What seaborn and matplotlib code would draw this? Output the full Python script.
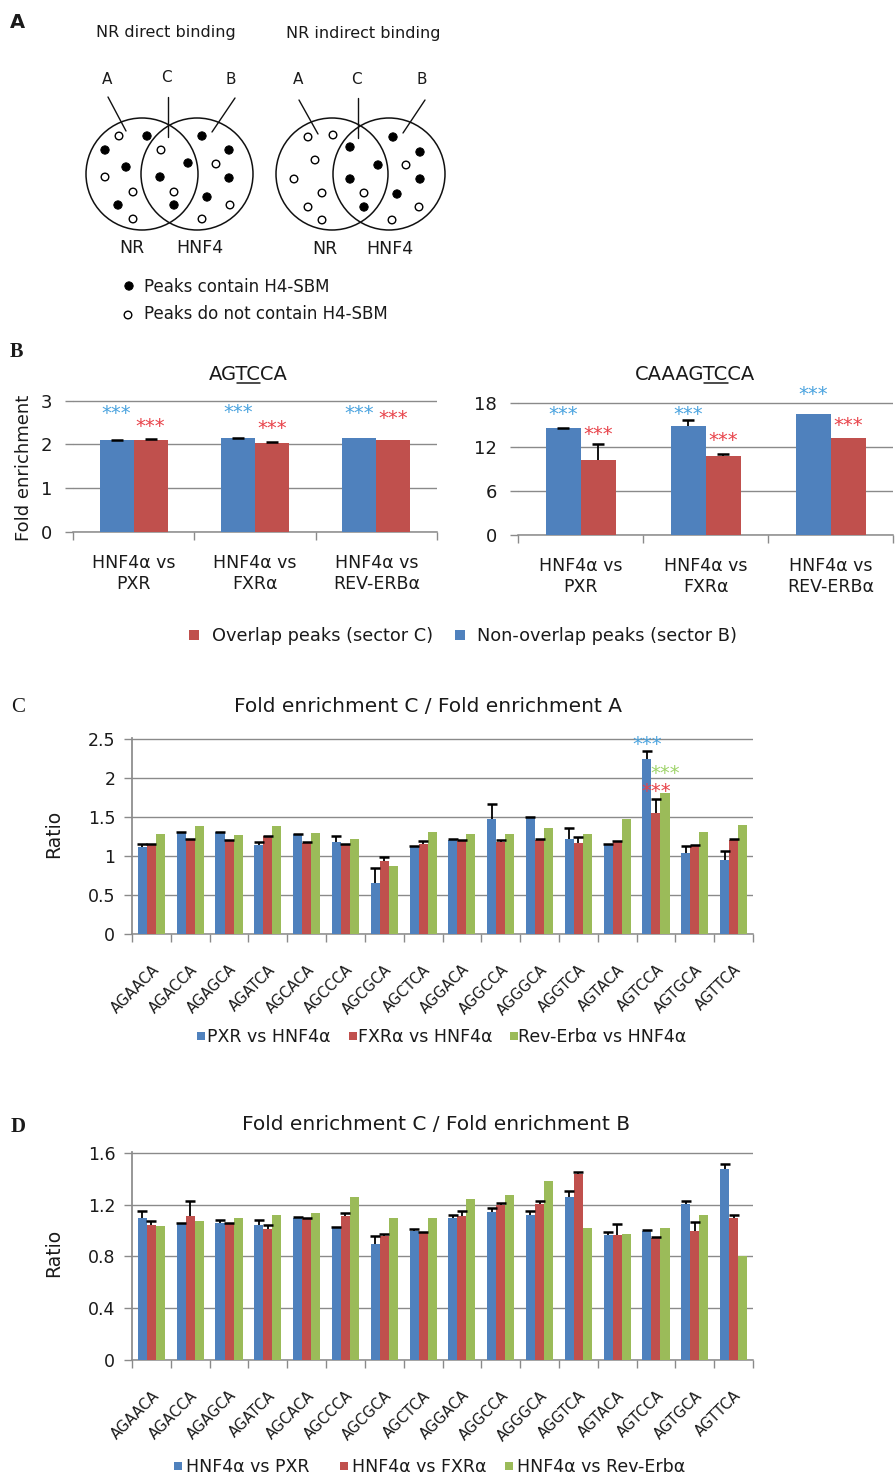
import numpy as np
import pandas as pd
import matplotlib
matplotlib.use("Agg")
import matplotlib.pyplot as plt
from matplotlib.patches import Circle, Rectangle
import seaborn as sns

# ------------------------------------------------------------------ data
B_GROUPS = ["HNF4α vs\nPXR", "HNF4α vs\nFXRα", "HNF4α vs\nREV-ERBα"]
B_SERIES = ["Non-overlap peaks (sector B)", "Overlap peaks (sector C)"]

AGTCCA_NONOVERLAP = [2.10, 2.14, 2.14]
AGTCCA_NONOVERLAP_ERR = [0.005, 0.01, np.nan]
AGTCCA_OVERLAP = [2.10, 2.02, 2.10]
AGTCCA_OVERLAP_ERR = [0.025, 0.025, np.nan]

CAAAGTCCA_NONOVERLAP = [14.5, 14.8, 16.5]
CAAAGTCCA_NONOVERLAP_ERR = [0.08, 0.85, np.nan]
CAAAGTCCA_OVERLAP = [10.15, 10.8, 13.2]
CAAAGTCCA_OVERLAP_ERR = [2.25, 0.15, np.nan]

MOTIFS = ["AGAACA", "AGACCA", "AGAGCA", "AGATCA", "AGCACA", "AGCCCA",
          "AGCGCA", "AGCTCA", "AGGACA", "AGGCCA", "AGGGCA", "AGGTCA",
          "AGTACA", "AGTCCA", "AGTGCA", "AGTTCA"]

C_SERIES = ["PXR vs HNF4α", "FXRα vs HNF4α", "Rev-Erbα vs HNF4α"]
C_PXR = [1.12, 1.30, 1.30, 1.14, 1.28, 1.18, 0.65, 1.12,
         1.21, 1.47, 1.49, 1.22, 1.15, 2.24, 1.04, 0.95]
C_PXR_ERR = [0.03, 0.005, 0.005, 0.035, 0.005, 0.08, 0.20, 0.005,
             0.005, 0.19, 0.005, 0.14, 0.005, 0.10, 0.09, 0.11]
C_FXR = [1.15, 1.21, 1.19, 1.25, 1.17, 1.15, 0.93, 1.15,
         1.19, 1.18, 1.21, 1.16, 1.19, 1.555, 1.13, 1.21]
C_FXR_ERR = [0.005, 0.01, 0.01, 0.01, 0.01, 0.005, 0.06, 0.04,
             0.01, 0.03, 0.01, 0.08, 0.005, 0.17, 0.005, 0.01]
C_REV = [1.28, 1.38, 1.265, 1.38, 1.29, 1.22, 0.87, 1.31,
         1.28, 1.28, 1.36, 1.28, 1.47, 1.80, 1.31, 1.40]

D_SERIES = ["HNF4α vs PXR", "HNF4α vs FXRα", "HNF4α vs Rev-Erbα"]
D_PXR = [1.10, 1.053, 1.058, 1.045, 1.10, 1.025, 0.895, 0.994,
         1.097, 1.14, 1.123, 1.257, 0.963, 0.994, 1.205, 1.476]
D_PXR_ERR = [0.05, 0.003, 0.026, 0.039, 0.003, 0.005, 0.065, 0.02,
             0.02, 0.034, 0.025, 0.051, 0.023, 0.008, 0.021, 0.034]
D_FXR = [1.045, 1.11, 1.053, 1.014, 1.09, 1.11, 0.955, 0.986,
         1.11, 1.20, 1.205, 1.437, 0.963, 0.942, 1.0, 1.097]
D_FXR_ERR = [0.025, 0.12, 0.005, 0.026, 0.005, 0.025, 0.018, 0.003,
             0.038, 0.013, 0.025, 0.018, 0.09, 0.005, 0.066, 0.02]
D_REV = [1.032, 1.07, 1.097, 1.12, 1.135, 1.257, 1.097, 1.097,
         1.246, 1.272, 1.38, 1.019, 0.976, 1.019, 1.123, 0.80]

# ------------------------------------------------------------------ style
BLUE, RED, GREEN = "#4F81BD", "#C0504D", "#9BBB59"
STAR_BLUE, STAR_RED, STAR_GREEN = "#4aa3df", "#e8434a", "#9fd46a"
GRID = "#8a8a8a"
INK = "#1a1a1a"

sns.set_theme(style="white")
plt.rcParams["font.family"] = ["DejaVu Sans"]
plt.rcParams["text.color"] = INK

W, H = 896, 1477
fig = plt.figure(figsize=(W / 100, H / 100), dpi=100)
fig.patch.set_facecolor("white")


def frame(l, t, r, b):
    return [l / W, 1 - b / H, (r - l) / W, (b - t) / H]


def bar_panel(ax, groups, series, values, errors, colors, width, cap):
    long = pd.DataFrame({
        "group": [g for s in series for g in groups],
        "series": [s for s in series for g in groups],
        "value": [v for vals in values for v in vals],
    })
    sns.barplot(data=long, x="group", y="value", hue="series", order=groups,
                hue_order=series, palette=colors, width=width, saturation=1,
                errorbar=None, legend=False, linewidth=0, ax=ax, zorder=3)
    for bars, errs in zip(ax.containers, errors):
        if errs is None:
            continue
        xs, ys, es = [], [], []
        for bar, e in zip(bars, errs):
            if np.isnan(e):
                continue
            xs.append(bar.get_x() + bar.get_width() / 2)
            ys.append(bar.get_height())
            es.append(e)
        xs, ys, es = np.array(xs), np.array(ys), np.array(es)
        # plus-only error bars: stem and a single cap at the top
        ax.errorbar(xs, ys, yerr=[np.zeros_like(es), es], fmt="none",
                    ecolor="black", elinewidth=1.3, capsize=0, zorder=5)
        ax.plot(xs, ys + es, ls="none", marker="_", markersize=cap,
                markeredgewidth=1.8, color="black", zorder=5)
    ax.set_xlabel("")
    ax.set_ylabel("")


def style_axes(ax, n, yticks, ylab_size, left_spine, ypad, xlabels, xlab_kw, xpad):
    ax.set_facecolor("none")
    ax.set_xlim(-0.5, n - 0.5)
    ax.set_ylim(0, yticks[-1] * 1.004)
    ax.set_yticks(yticks)
    ax.set_yticklabels([f"{t:g}" for t in yticks], fontsize=ylab_size, color=INK)
    ax.set_axisbelow(True)
    ax.yaxis.grid(True, color=GRID, linewidth=1.0)
    ax.xaxis.grid(False)
    for side in ("top", "right"):
        ax.spines[side].set_visible(False)
    ax.spines["left"].set_visible(left_spine)
    ax.spines["left"].set_color(GRID)
    ax.spines["bottom"].set_color(GRID)
    ax.spines["bottom"].set_linewidth(1.1)
    ax.tick_params(axis="y", which="major", length=6, width=1.0, color=GRID,
                   direction="out", pad=ypad, left=True)
    ax.set_xticks(np.arange(n))
    ax.set_xticks(np.arange(n + 1) - 0.5, minor=True)
    ax.set_xticklabels(xlabels, **xlab_kw)
    ax.tick_params(axis="x", which="major", length=0, pad=xpad, bottom=True)
    ax.tick_params(axis="x", which="minor", length=6, width=1.0, color=GRID,
                   direction="out", bottom=True)


def stars(ax, hue_idx, group_idx, level, color, size=14):
    bar = ax.containers[hue_idx][group_idx]
    x = bar.get_x() + bar.get_width() / 2
    ax.annotate("***", xy=(x, level), xytext=(0, -0.42 * size),
                textcoords="offset points", ha="center", va="baseline",
                fontsize=size, color=color, annotation_clip=False, zorder=6)


# ------------------------------------------------------------------ panel B
axB1 = fig.add_axes(frame(73, 400, 437, 532))
bar_panel(axB1, B_GROUPS, B_SERIES, [AGTCCA_NONOVERLAP, AGTCCA_OVERLAP],
          [AGTCCA_NONOVERLAP_ERR, AGTCCA_OVERLAP_ERR], [BLUE, RED], 0.56, 9)
style_axes(axB1, 3, [0, 1, 2, 3], 13, False, 9, B_GROUPS,
           dict(fontsize=12.5, color=INK, linespacing=1.2), 16)
for hue_idx, group_idx, level, color in [
        (0, 0, 2.77, STAR_BLUE), (1, 0, 2.47, STAR_RED),
        (0, 1, 2.79, STAR_BLUE), (1, 1, 2.43, STAR_RED),
        (0, 2, 2.76, STAR_BLUE), (1, 2, 2.65, STAR_RED)]:
    stars(axB1, hue_idx, group_idx, level, color)

axB2 = fig.add_axes(frame(518, 402, 893, 535))
bar_panel(axB2, B_GROUPS, B_SERIES, [CAAAGTCCA_NONOVERLAP, CAAAGTCCA_OVERLAP],
          [CAAAGTCCA_NONOVERLAP_ERR, CAAAGTCCA_OVERLAP_ERR], [BLUE, RED], 0.56, 9)
style_axes(axB2, 3, [0, 6, 12, 18], 13, False, 9, B_GROUPS,
           dict(fontsize=12.5, color=INK, linespacing=1.2), 16)
for hue_idx, group_idx, level, color in [
        (0, 0, 16.8, STAR_BLUE), (1, 0, 14.0, STAR_RED),
        (0, 1, 16.8, STAR_BLUE), (1, 1, 13.2, STAR_RED),
        (0, 2, 19.4, STAR_BLUE), (1, 2, 15.2, STAR_RED)]:
    stars(axB2, hue_idx, group_idx, level, color)

# ------------------------------------------------------------------ panels C, D
motif_kw = dict(fontsize=10.5, rotation=45, ha="right", va="top",
                rotation_mode="anchor", color=INK)

axC = fig.add_axes(frame(132, 738, 753, 934))
bar_panel(axC, MOTIFS, C_SERIES, [C_PXR, C_FXR, C_REV],
          [C_PXR_ERR, C_FXR_ERR, None], [BLUE, RED, GREEN], 0.70, 7.5)
style_axes(axC, 16, [0, 0.5, 1, 1.5, 2, 2.5], 12.5, True, 6, MOTIFS, motif_kw, 20)
stars(axC, 0, 13, 2.46, STAR_BLUE)
stars(axC, 2, 13, 2.09, STAR_GREEN)
stars(axC, 1, 13, 1.86, STAR_RED)

axD = fig.add_axes(frame(132, 1152, 753, 1360))
bar_panel(axD, MOTIFS, D_SERIES, [D_PXR, D_FXR, D_REV],
          [D_PXR_ERR, D_FXR_ERR, None], [BLUE, RED, GREEN], 0.70, 7.5)
style_axes(axD, 16, [0, 0.4, 0.8, 1.2, 1.6], 12.5, True, 6, MOTIFS, motif_kw, 20)

# ------------------------------------------------------------------ annotation layer (pixel coordinates)
ov = fig.add_axes([0, 0, 1, 1])
ov.set_xlim(0, W)
ov.set_ylim(H, 0)
ov.axis("off")
ov.patch.set_visible(False)
ov.set_zorder(20)

# panel letters
ov.text(10, 28, "A", fontsize=14, fontweight="bold", va="baseline")
ov.text(10, 357, "B", fontsize=14.5, fontweight="bold", family="Liberation Serif", va="baseline")
ov.text(11, 712, "C", fontsize=15, family="Liberation Serif", va="baseline")
ov.text(11, 1132, "D", fontsize=15, fontweight="bold", family="Liberation Serif", va="baseline")

# panel A: Venn schematics
ov.text(166, 37.5, "NR direct binding", fontsize=11.5, ha="center", va="baseline")
ov.text(363, 38, "NR indirect binding", fontsize=11.5, ha="center", va="baseline")

venn_circles = [(142, 174), (197, 174), (332, 174), (389, 174)]
for cx, cy in venn_circles:
    ov.add_patch(Circle((cx, cy), 56, fill=False, edgecolor="#111111", linewidth=1.1))

sector_labels = [("A", 107, 83.5), ("C", 166, 82.5), ("B", 231, 83.5),
                 ("A", 298, 84.5), ("C", 356, 83.5), ("B", 422, 84.5)]
for s, x, y in sector_labels:
    ov.text(x, y, s, fontsize=11, ha="center", va="baseline")

pointer_lines = [((108, 97), (126, 131)), ((168, 97), (168, 137)), ((235, 98), (212, 132)),
                 ((299, 100), (318, 134)), ((358, 98), (358, 138)), ((425, 100), (403, 133))]
for (x0, y0), (x1, y1) in pointer_lines:
    ov.plot([x0, x1], [y0, y1], color="#111111", linewidth=1.0)

filled_peaks = [(147, 136), (105, 150), (126, 167), (118, 205), (188, 163), (160, 177),
                (174, 205), (202, 136), (229, 150), (229, 178), (207, 197),
                (350, 147), (378, 165), (350, 179), (364, 207), (393, 137), (420, 152),
                (420, 179), (397, 194)]
open_peaks = [(119, 136), (105, 177), (133, 192), (133, 219), (161, 150), (174, 192),
              (216, 164), (230, 205), (202, 219),
              (308, 137), (333, 135), (315, 160), (294, 179), (322, 193), (308, 207),
              (322, 220), (364, 193), (406, 165), (419, 207), (392, 220)]
for x, y in filled_peaks:
    ov.add_patch(Circle((x, y), 4.2, facecolor="black", edgecolor="black", linewidth=0.6))
for x, y in open_peaks:
    ov.add_patch(Circle((x, y), 3.8, facecolor="white", edgecolor="black", linewidth=1.0))

ov.text(132, 253, "NR", fontsize=12.5, ha="center", va="baseline")
ov.text(200, 253, "HNF4", fontsize=12.5, ha="center", va="baseline")
ov.text(325, 254, "NR", fontsize=12.5, ha="center", va="baseline")
ov.text(390, 254, "HNF4", fontsize=12.5, ha="center", va="baseline")

ov.add_patch(Circle((129, 286), 4.2, facecolor="black", edgecolor="black", linewidth=0.6))
ov.text(144, 292, "Peaks contain H4-SBM", fontsize=12, va="baseline")
ov.add_patch(Circle((128, 315), 3.8, facecolor="white", edgecolor="black", linewidth=1.0))
ov.text(144, 319, "Peaks do not contain H4-SBM", fontsize=12, va="baseline")


# chart titles (with the TC core underlined in panel B)
def underlined_title(cx, base, pre, mid, post, size):
    renderer = fig.canvas.get_renderer()

    def width(s):
        t = ov.text(0, 0, s, fontsize=size)
        w = t.get_window_extent(renderer).width
        t.remove()
        return w

    full = pre + mid + post
    ov.text(cx, base, full, fontsize=size, ha="center", va="baseline")
    left = cx - width(full) / 2
    x0 = left + width(pre)
    x1 = left + width(pre + mid)
    ov.plot([x0, x1], [base + 2.5, base + 2.5], color=INK, linewidth=1.1)


underlined_title(248, 380, "AG", "TC", "CA", 14)
underlined_title(695, 380, "CAAAG", "TC", "CA", 14)
ov.text(428, 712, "Fold enrichment C / Fold enrichment A", fontsize=14.5, ha="center", va="baseline")
ov.text(436, 1130, "Fold enrichment C / Fold enrichment B", fontsize=14.5, ha="center", va="baseline")

# axis titles
ov.text(24.5, 468, "Fold enrichment", fontsize=13, rotation=90, ha="center", va="center")
ov.text(53.5, 834, "Ratio", fontsize=13.5, rotation=90, ha="center", va="center")
ov.text(53.5, 1253, "Ratio", fontsize=13.5, rotation=90, ha="center", va="center")


def legend_item(xc, yc, side, color, label, text_x, size):
    ov.add_patch(Rectangle((xc - side / 2, yc - side / 2), side, side,
                           facecolor=color, edgecolor="none"))
    ov.text(text_x, yc + 0.36 * size * 100 / 72, label, fontsize=size, va="baseline")


legend_item(193.5, 635, 10, RED, B_SERIES[1], 212, 12.8)
legend_item(460, 635, 10, BLUE, B_SERIES[0], 477, 12.8)

for (xc, tx), color, label in zip([(201, 207), (352.5, 358), (513.5, 518)],
                                  [BLUE, RED, GREEN], C_SERIES):
    legend_item(xc, 1036, 8, color, label, tx, 12.5)

for (xc, tx), color, label in zip([(177.5, 186), (344, 352), (509, 517)],
                                  [BLUE, RED, GREEN], D_SERIES):
    legend_item(xc, 1466, 8, color, label, tx, 12.5)

fig.savefig("out.png", dpi=100, facecolor="white")
